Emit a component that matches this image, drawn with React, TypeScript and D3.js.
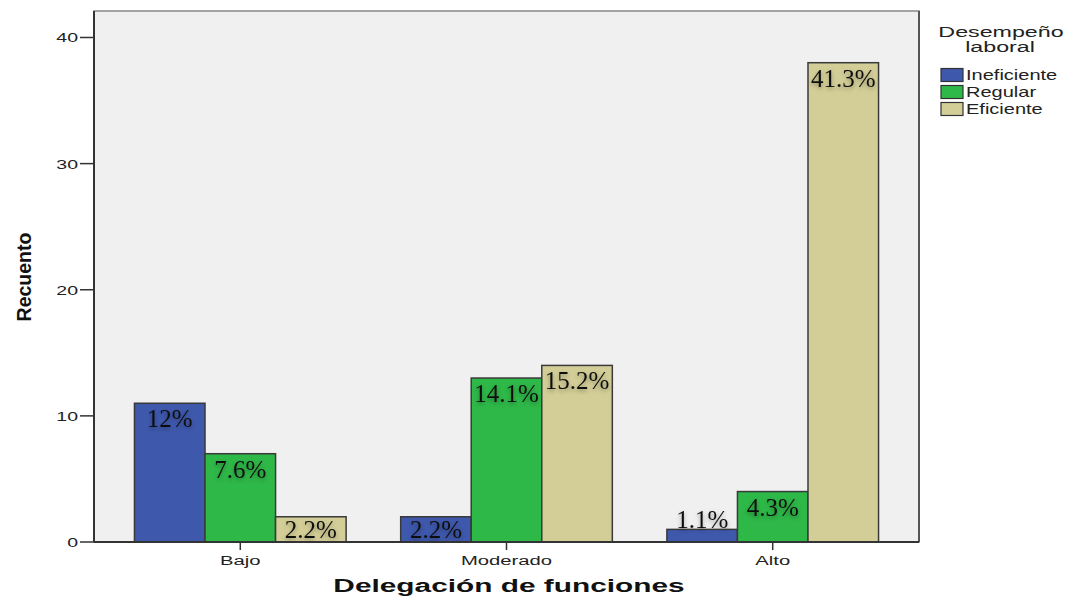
import React from "react";
import * as d3 from "d3";

const categories = ["Bajo", "Moderado", "Alto"];
const seriesNames = ["Ineficiente", "Regular", "Eficiente"];
const ineficiente = [11, 2, 1];
const regular = [7, 13, 4];
const eficiente = [2, 14, 38];
const pctLabels = [
  ["12%", "2.2%", "1.1%"],
  ["7.6%", "14.1%", "4.3%"],
  ["2.2%", "15.2%", "41.3%"],
];
const yTicks = [0, 10, 20, 30, 40];
const colors = ["#3E58AC", "#2EB848", "#D3CE97"];

const W = 1074;
const H = 599;
const L = 94;
const R = 919;
const T = 11;
const B = 542;
const SX = 1.5;

function SText(props: any) {
  const { x, y, sx = SX, children, ...rest } = props;
  return (
    <text transform={`translate(${x},${y}) scale(${sx},1)`} {...rest}>
      {children}
    </text>
  );
}

export default function App() {
  const series = [ineficiente, regular, eficiente];
  const x0 = d3
    .scaleBand<string>()
    .domain(categories)
    .range([L, R])
    .paddingInner(0.205)
    .paddingOuter(0.152);
  const x1 = d3
    .scaleBand<string>()
    .domain(seriesNames)
    .range([0, x0.bandwidth()])
    .padding(0);
  const y = d3.scaleLinear().domain([0, 42.1]).range([B, T]);
  const sans = "Liberation Sans, Arial, sans-serif";

  return (
    <svg
      width={W}
      height={H}
      style={{ position: "absolute", left: 0, top: 0, background: "#fff" }}
    >
      <defs>
        <filter id="sh" x="-20%" y="-30%" width="140%" height="170%">
          <feDropShadow dx="0" dy="2" stdDeviation="2" floodColor="#000" floodOpacity="0.35" />
        </filter>
      </defs>
      <rect x={L} y={T} width={R - L} height={B - T} fill="#F0F0F0" stroke="#888" strokeWidth={1.5} />
      <line x1={R} x2={R} y1={T} y2={B} stroke="#555" strokeWidth={2} />
      {series.map((vals, si) =>
        categories.map((c, ci) => {
          const v = vals[ci];
          const bx = (x0(c) as number) + (x1(seriesNames[si]) as number);
          const bw = x1.bandwidth();
          const top = y(v);
          const h = B - top;
          const cx = bx + bw / 2;
          const base = h >= 20 ? Math.min(top + 24, B - 4) : top - 1;
          return (
            <g key={`${si}-${ci}`}>
              <rect x={bx} y={top} width={bw} height={h} fill={colors[si]} stroke="#3a3a3a" strokeWidth={1.5} />
              <text
                x={cx}
                y={base}
                textAnchor="middle"
                fontFamily="Liberation Serif, Times New Roman, serif"
                fontSize={25}
                fill="#111"
                filter="url(#sh)"
              >
                {pctLabels[si][ci]}
              </text>
            </g>
          );
        })
      )}
      <line x1={L} x2={L} y1={T} y2={B} stroke="#333" strokeWidth={2} />
      <line x1={L} x2={R} y1={B} y2={B} stroke="#333" strokeWidth={2} />
      {yTicks.map((t) => (
        <g key={t}>
          <line x1={L - 14} x2={L} y1={y(t)} y2={y(t)} stroke="#333" strokeWidth={1.5} />
          <SText x={L - 16} y={y(t) + 5} textAnchor="end" fontFamily={sans} fontSize={13} fill="#222">
            {String(t)}
          </SText>
        </g>
      ))}
      {categories.map((c) => {
        const cx = (x0(c) as number) + x0.bandwidth() / 2;
        return (
          <g key={c}>
            <line x1={cx} x2={cx} y1={B} y2={B + 8} stroke="#333" strokeWidth={1.5} />
            <SText x={cx} y={565} textAnchor="middle" fontFamily={sans} fontSize={13.5} fill="#222">
              {c}
            </SText>
          </g>
        );
      })}
      <text
        transform={`translate(31,277) rotate(-90)`}
        textAnchor="middle"
        fontFamily={sans}
        fontWeight="bold"
        fontSize={19.5}
        fill="#111"
      >
        Recuento
      </text>
      <SText x={509} y={592} sx={1.57} textAnchor="middle" fontFamily={sans} fontWeight="bold" fontSize={19} fill="#111">
        Delegación de funciones
      </SText>
      <SText x={1001} y={37} sx={1.55} textAnchor="middle" fontFamily={sans} fontSize={15} fill="#222">
        Desempeño
      </SText>
      <SText x={1000} y={52} sx={1.55} textAnchor="middle" fontFamily={sans} fontSize={15} fill="#222">
        laboral
      </SText>
      {seriesNames.map((s, i) => {
        const cy = 75 + i * 17;
        return (
          <g key={s}>
            <rect x={941} y={cy - 6.5} width={22} height={13} fill={colors[i]} stroke="#333" strokeWidth={1.2} />
            <SText x={966} y={cy + 5} sx={1.43} fontFamily={sans} fontSize={14} fill="#222">
              {s}
            </SText>
          </g>
        );
      })}
    </svg>
  );
}
